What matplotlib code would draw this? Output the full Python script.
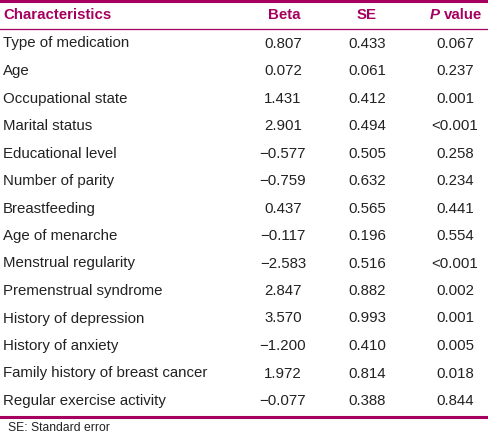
import matplotlib.pyplot as plt
from matplotlib.lines import Line2D

characteristics = ['Type of medication', 'Age', 'Occupational state', 'Marital status',
                   'Educational level', 'Number of parity', 'Breastfeeding', 'Age of menarche',
                   'Menstrual regularity', 'Premenstrual syndrome', 'History of depression',
                   'History of anxiety', 'Family history of breast cancer', 'Regular exercise activity']
beta = ['0.807', '0.072', '1.431', '2.901', '\u22120.577', '\u22120.759', '0.437', '\u22120.117',
        '\u22122.583', '2.847', '3.570', '\u22121.200', '1.972', '\u22120.077']
se = ['0.433', '0.061', '0.412', '0.494', '0.505', '0.632', '0.565', '0.196',
      '0.516', '0.882', '0.993', '0.410', '0.814', '0.388']
pval = ['0.067', '0.237', '0.001', '<0.001', '0.258', '0.234', '0.441', '0.554',
        '<0.001', '0.002', '0.001', '0.005', '0.018', '0.844']

W, H = 488, 433
accent = '#a6005f'
txt = '#222222'
plt.rcParams['font.family'] = ['Liberation Sans', 'DejaVu Sans']

fig = plt.figure(figsize=(W / 100, H / 100), dpi=100)

def px(x, y):
    return x / W, 1 - y / H

def hline(y, lw):
    fig.add_artist(Line2D([0, 1], [1 - y / H, 1 - y / H], color=accent, lw=lw,
                          transform=fig.transFigure))

hline(1, 2.2)
hline(29, 0.9)
hline(417, 2.2)

fs = 10.8
hy = 15
fig.text(*px(3, hy), 'Characteristics', color=accent, fontsize=fs, weight='bold', va='center')
fig.text(*px(284, hy), 'Beta', color=accent, fontsize=fs, weight='bold', va='center', ha='center')
fig.text(*px(367, hy), 'SE', color=accent, fontsize=fs, weight='bold', va='center', ha='center')
fig.text(*px(430, hy), 'P', color=accent, fontsize=fs, weight='bold', style='italic', va='center', ha='left')
fig.text(*px(444, hy), 'value', color=accent, fontsize=fs, weight='bold', va='center', ha='left')

for i, name in enumerate(characteristics):
    y = 43.5 + i * 27.5
    fig.text(*px(3, y), name, color=txt, fontsize=fs, va='center')
    fig.text(*px(283, y), beta[i], color=txt, fontsize=fs, va='center', ha='center')
    fig.text(*px(367, y), se[i], color=txt, fontsize=fs, va='center', ha='center')
    fig.text(*px(455, y), pval[i], color=txt, fontsize=fs, va='center', ha='center')

fig.text(*px(8, 428), 'SE: Standard error', color=txt, fontsize=8.7, va='center')

fig.savefig('out.png', dpi=100)
